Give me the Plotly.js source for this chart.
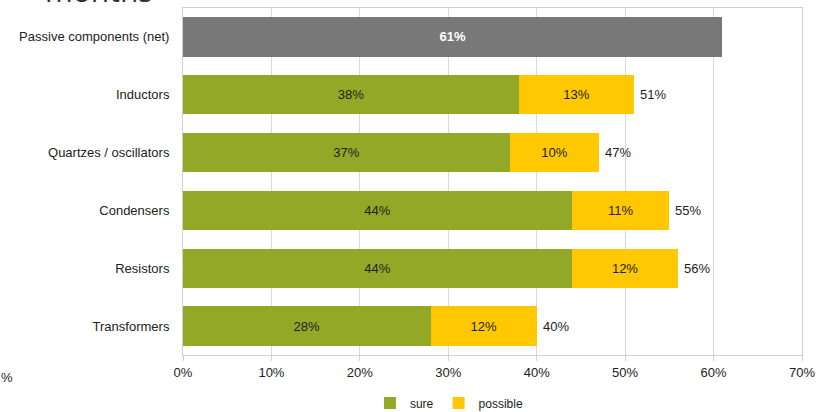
<!DOCTYPE html>
<html><head><meta charset="utf-8">
<script src="https://cdn.plot.ly/plotly-3.0.1.min.js"></script>
<style>html,body{margin:0;padding:0;background:#fff}#c{width:818px;height:412px}</style>
</head><body><div id="c"></div>
<script>
const categories = ["Passive components (net)", "Inductors", "Quartzes / oscillators", "Condensers", "Resistors", "Transformers"];
const netValues = [61, null, null, null, null, null];
const sureValues = [null, 38, 37, 44, 44, 28];
const possibleValues = [null, 13, 10, 11, 12, 12];
const totalValues = [null, 51, 47, 55, 56, 40];
const xTickVals = [0, 10, 20, 30, 40, 50, 60, 70];
const xTickText = ["0%", "10%", "20%", "30%", "40%", "50%", "60%", "70%"];

const pct = a => a.map(v => v == null ? "" : v + "%");
const font = {family: "Liberation Sans, Arial, sans-serif", size: 13, color: "#222"};

const traces = [
  {type: "bar", orientation: "h", y: categories, x: netValues, name: "net", showlegend: false,
   marker: {color: "#787878"}, text: pct(netValues), textposition: "inside", insidetextanchor: "middle",
   textfont: {family: font.family, size: 13, color: "#fff", weight: "bold"}, hoverinfo: "none"},
  {type: "bar", orientation: "h", y: categories, x: sureValues, name: "sure",
   marker: {color: "#93a826"}, text: pct(sureValues), textposition: "inside", insidetextanchor: "middle",
   textfont: {family: font.family, size: 13, color: "#222"}, hoverinfo: "none"},
  {type: "bar", orientation: "h", y: categories, x: possibleValues, name: "possible",
   marker: {color: "#ffc800"}, text: pct(possibleValues), textposition: "inside", insidetextanchor: "middle",
   textfont: {family: font.family, size: 13, color: "#222"}, hoverinfo: "none"}
];

const totalAnnotations = [];
categories.forEach((c, i) => {
  if (totalValues[i] != null) {
    totalAnnotations.push({x: totalValues[i], y: c, xref: "x", yref: "y", text: totalValues[i] + "%",
      xanchor: "left", yanchor: "middle", xshift: 4, showarrow: false,
      font: {family: font.family, size: 13, color: "#222"}});
  }
});

const layout = {
  width: 818, height: 412,
  margin: {l: 183, r: 16, t: 8, b: 57, autoexpand: false},
  paper_bgcolor: "#fff", plot_bgcolor: "#fff",
  barmode: "stack", bargap: 0.32,
  font: font,
  xaxis: {range: [0, 70], tickvals: xTickVals, ticktext: xTickText, showgrid: true,
    gridcolor: "#d9d9d9", gridwidth: 1, zeroline: false, showline: true, linecolor: "#d0d0d0",
    mirror: true, ticks: "outside", ticklen: 5, tickcolor: "#d0d0d0", tickfont: font, fixedrange: true,
    automargin: false},
  yaxis: {autorange: "reversed", showgrid: false, showline: true, linecolor: "#d0d0d0", mirror: true,
    ticks: "", ticklabelstandoff: 10, tickfont: font, fixedrange: true, automargin: false},
  showlegend: true,
  legend: {orientation: "h", x: 0.302, xanchor: "left", y: -0.138, yanchor: "middle",
    font: {family: font.family, size: 12, color: "#222"}, itemwidth: 30, traceorder: "normal"},
  annotations: totalAnnotations.concat([
    {text: "months", xref: "paper", yref: "paper", x: -0.226, xanchor: "left", y: 0.987, yanchor: "bottom",
     showarrow: false, font: {family: "Open Sans, sans-serif", size: 30, color: "#333"}},
    {text: "%", xref: "paper", yref: "paper", x: -0.298, xanchor: "left", y: -0.066, yanchor: "middle",
     showarrow: false, font: {family: font.family, size: 13, color: "#222"}}
  ])
};
Plotly.newPlot("c", traces, layout, {displayModeBar: false, staticPlot: true});
</script></body></html>
